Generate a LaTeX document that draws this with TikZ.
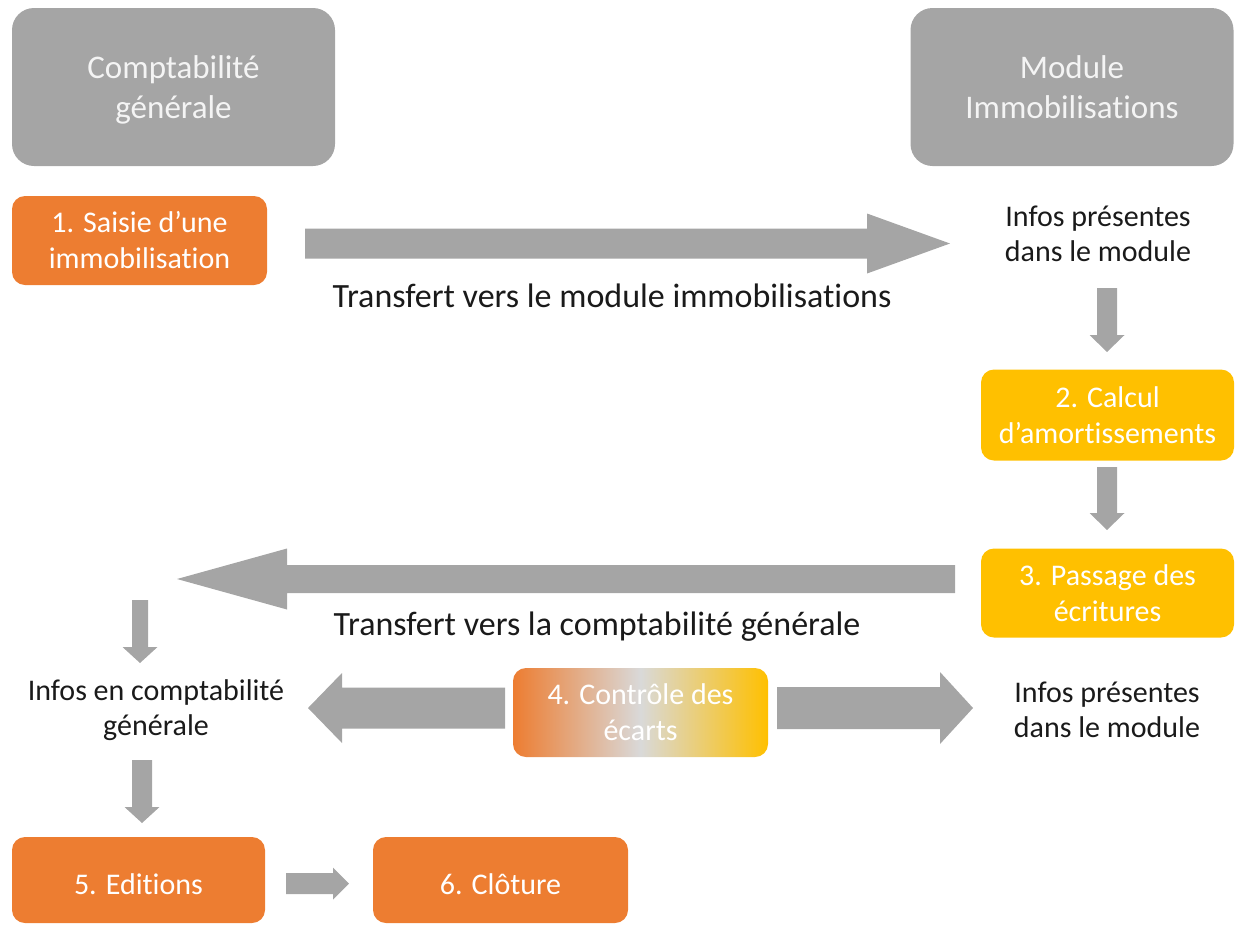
\documentclass[tikz,border=0pt]{standalone}
\usepackage{fontspec}
\setmainfont{Carlito}[RawFeature={-liga;-clig;-calt;-dlig}]
\usetikzlibrary{calc}
\definecolor{grayC}{HTML}{A5A5A5}
\definecolor{orangeC}{HTML}{ED7D31}
\definecolor{yellowC}{HTML}{FFC000}
\definecolor{midC}{HTML}{D9D9D9}
\definecolor{txtC}{HTML}{1A1A1A}
\definecolor{lightT}{HTML}{F4F4F4}
\newcommand\hs{\rule[-7pt]{0pt}{37pt}}
% block arrow: #1 start, #2 end, #3 ux, #4 uy, #5 half shaft, #6 head length, #7 half head
\newcommand\blockarr[7]{%
\fill[grayC] ($(#1)+({-(#4)*(#5)},{(#3)*(#5)})$)
 -- ($(#2)+({-(#3)*(#6)-(#4)*(#5)},{-(#4)*(#6)+(#3)*(#5)})$)
 -- ($(#2)+({-(#3)*(#6)-(#4)*(#7)},{-(#4)*(#6)+(#3)*(#7)})$)
 -- (#2)
 -- ($(#2)+({-(#3)*(#6)+(#4)*(#7)},{-(#4)*(#6)-(#3)*(#7)})$)
 -- ($(#2)+({-(#3)*(#6)+(#4)*(#5)},{-(#4)*(#6)-(#3)*(#5)})$)
 -- ($(#1)+({(#4)*(#5)},{-(#3)*(#5)})$) -- cycle;}
\tikzset{
  headbox/.style={rounded corners=22, fill=grayC, text=lightT, align=center,
    minimum width=323, minimum height=158, inner sep=0,
    font=\fontsize{33}{40}\selectfont},
  stepbox/.style={rounded corners=13, text=white, align=center,
    minimum width=255, minimum height=89, inner sep=0,
    font=\fontsize{30}{36}\selectfont},
  orangebox/.style={stepbox, fill=orangeC},
  yellowbox/.style={stepbox, fill=yellowC},
  infotext/.style={text=txtC, align=center, inner sep=0,
    font=\fontsize{30}{35.5}\selectfont},
  transtext/.style={text=txtC, inner sep=0, font=\fontsize{34}{40}\selectfont}
}
\begin{document}
\begin{tikzpicture}[x=1pt,y=-1pt]
\useasboundingbox (0,0) rectangle (1236,924);
% header boxes
\node[headbox] (cg) at (173.5,87) {\hs Comptabilité\\\hs générale};
\node[headbox] (mi) at (1072,87) {\hs Module\\\hs Immobilisations};
% step boxes
\node[orangebox] (s1) at (139.5,240.5) {1. Saisie d’une\\immobilisation};
\node[yellowbox, minimum width=253, minimum height=91] (s2) at (1107.5,415) {2. Calcul\\d’amortissements};
\node[yellowbox, minimum width=253] (s3) at (1107.5,593) {3. Passage des\\écritures};
\node[stepbox, left color=orangeC, right color=yellowC, middle color=midC] (s4) at (640.5,712.5) {4. Contrôle des\\écarts};
\node[orangebox, minimum width=253, minimum height=86, text height=29] (s5) at (138.5,880) {5. Editions};
\node[orangebox, minimum height=86, text height=29] (s6) at (500.5,880) {6. Clôture};
% texts
\node[infotext] (i1) at (1098,234) {Infos présentes\\dans le module};
\node[infotext] (i2) at (156,710) {Infos en comptabilité\\générale};
\node[infotext] (i3) at (1107,710) {Infos présentes\\dans le module};
\node[transtext] (t1) at (612,296) {Transfert vers le module immobilisations};
\node[transtext] (t2) at (597,627) {Transfert vers la comptabilité générale};
% arrow end points
\coordinate (a1s) at (305,243.5);  \coordinate (a1e) at (950,243.5);
\coordinate (a2s) at (1107,288);   \coordinate (a2e) at (1107,352);
\coordinate (a3s) at (1107,467);   \coordinate (a3e) at (1107,530);
\coordinate (a4s) at (955,579);    \coordinate (a4e) at (177,579);
\coordinate (a5s) at (140,600);    \coordinate (a5e) at (140,663);
\coordinate (a6s) at (505,708);    \coordinate (a6e) at (308,708);
\coordinate (a7s) at (777,708);    \coordinate (a7e) at (973,708);
\coordinate (a8s) at (142,760);    \coordinate (a8e) at (142,823);
\coordinate (a9s) at (286,883.5);  \coordinate (a9e) at (349,883.5);
% block arrows
\blockarr{a1s}{a1e}{1}{0}{15}{83}{30}
\blockarr{a2s}{a2e}{0}{1}{10}{17}{17.5}
\blockarr{a3s}{a3e}{0}{1}{10}{17}{17.5}
\blockarr{a4s}{a4e}{-1}{0}{14}{110}{30.5}
\blockarr{a5s}{a5e}{0}{1}{8}{16}{17.5}
\blockarr{a6s}{a6e}{-1}{0}{20.5}{34}{35}
\blockarr{a7s}{a7e}{1}{0}{21}{33}{36}
\blockarr{a8s}{a8e}{0}{1}{10}{16}{17.5}
\blockarr{a9s}{a9e}{1}{0}{10.5}{16}{16}
\end{tikzpicture}
\end{document}
